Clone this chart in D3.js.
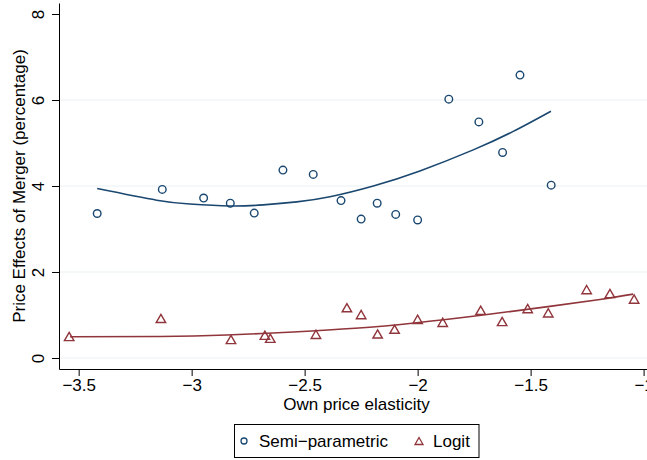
<!DOCTYPE html>
<html>
<head>
<meta charset="utf-8">
<script src="https://cdn.jsdelivr.net/npm/d3@7"></script>
<style>
  body { margin: 0; background: #fff; }
  svg text { font-family: "Liberation Sans", Arial, sans-serif; }
</style>
</head>
<body>
<div id="chart"></div>
<script>
// data
var semiX = [-3.418, -3.130, -2.947, -2.829, -2.723, -2.596, -2.462, -2.339, -2.250, -2.179, -2.097, -2.000, -1.862, -1.729, -1.624, -1.547, -1.409];
var semiY = [3.36, 3.92, 3.72, 3.60, 3.37, 4.37, 4.27, 3.66, 3.23, 3.60, 3.34, 3.21, 6.02, 5.49, 4.78, 6.58, 4.02];
var logitX = [-3.542, -3.136, -2.826, -2.676, -2.652, -2.450, -2.313, -2.250, -2.177, -2.102, -2.000, -1.889, -1.721, -1.626, -1.513, -1.422, -1.252, -1.149, -1.042];
var logitY = [0.50, 0.92, 0.43, 0.53, 0.46, 0.55, 1.17, 1.01, 0.56, 0.67, 0.90, 0.83, 1.11, 0.85, 1.15, 1.05, 1.59, 1.50, 1.37];

// fitted curves
var semiFitX = [-3.418, -3.155, -3.008, -2.831, -2.683, -2.535, -2.388, -2.196, -1.990, -1.754, -1.577, -1.410];
var semiFitY = [3.94, 3.67, 3.58, 3.535, 3.56, 3.63, 3.75, 4.00, 4.35, 4.84, 5.27, 5.74];
var logitFitX = [-3.538, -3.140, -2.845, -2.550, -2.277, -2.004, -1.710, -1.415, -1.193, -1.046];
var logitFitY = [0.495, 0.50, 0.535, 0.605, 0.69, 0.82, 1.00, 1.20, 1.36, 1.485];

var xTicks = [-3.5, -3, -2.5, -2, -1.5, -1];
var yTicks = [0, 2, 4, 6, 8];
var yGrid = [0, 2, 4, 6];
var seriesNames = ["Semi\u2212parametric", "Logit"];

var navy = "#1a476f";
var maroon = "#90353b";
var width = 647, height = 460;

var svg = d3.select("#chart").append("svg")
    .attr("width", width)
    .attr("height", height);

var x = d3.scaleLinear().domain([-3.587, -0.954]).range([59, 654]);
var y = d3.scaleLinear().domain([-0.256, 8.256]).range([369, 3]);

// gridlines
svg.selectAll(".grid")
    .data(yGrid)
    .enter()
    .append("line")
    .attr("x1", 59).attr("x2", 654)
    .attr("y1", function(d) { return y(d); })
    .attr("y2", function(d) { return y(d); })
    .attr("stroke", "#eaf2f3")
    .attr("stroke-width", 1.2);

// axes
var xAxis = svg.append("g")
    .attr("transform", "translate(0,369)")
    .call(d3.axisBottom(x).tickValues(xTicks).tickSizeInner(7).tickSizeOuter(0).tickPadding(3).tickFormat(d3.format("")));
xAxis.selectAll("text").attr("font-size", "17px").attr("fill", "#000");

var yAxis = svg.append("g")
    .attr("transform", "translate(59,0)")
    .call(d3.axisLeft(y).tickValues(yTicks).tickSizeInner(7).tickSizeOuter(0).tickFormat(d3.format("")));
yAxis.selectAll(".tick text")
    .attr("font-size", "17px")
    .attr("fill", "#000")
    .attr("x", null).attr("dy", null)
    .attr("text-anchor", "middle")
    .attr("transform", "translate(-15,0) rotate(-90)");

svg.selectAll(".domain").attr("stroke", "#000");
svg.selectAll(".tick line").attr("stroke", "#000");

// axis titles
svg.append("text")
    .attr("x", 356.5).attr("y", 410)
    .attr("text-anchor", "middle")
    .attr("font-size", "17px")
    .text("Own price elasticity");

svg.append("text")
    .attr("transform", "translate(25,186) rotate(-90)")
    .attr("text-anchor", "middle")
    .attr("font-size", "17px")
    .text("Price Effects of Merger (percentage)");

// fit lines
var line = d3.line()
    .x(function(d) { return x(d[0]); })
    .y(function(d) { return y(d[1]); })
    .curve(d3.curveNatural);

svg.append("path")
    .attr("d", line(d3.zip(semiFitX, semiFitY)))
    .attr("fill", "none").attr("stroke", navy).attr("stroke-width", 1.6);

svg.append("path")
    .attr("d", line(d3.zip(logitFitX, logitFitY)))
    .attr("fill", "none").attr("stroke", maroon).attr("stroke-width", 1.6);

// markers
var semiData = semiX.map(function(v, i) { return {x: v, y: semiY[i]}; });
var logitData = logitX.map(function(v, i) { return {x: v, y: logitY[i]}; });

svg.selectAll(".semi")
    .data(semiData)
    .enter()
    .append("circle")
    .attr("cx", function(d) { return x(d.x); })
    .attr("cy", function(d) { return y(d.y); })
    .attr("r", 3.8)
    .attr("fill", "none")
    .attr("stroke", navy)
    .attr("stroke-width", 1.4);

function tri(cx, cy, w) {
    var h = w * 0.87;
    return "M" + cx + "," + (cy - h / 2) + "L" + (cx + w / 2) + "," + (cy + h / 2) + "L" + (cx - w / 2) + "," + (cy + h / 2) + "Z";
}

svg.selectAll(".logit")
    .data(logitData)
    .enter()
    .append("path")
    .attr("d", function(d) { return tri(x(d.x), y(d.y), 9.5); })
    .attr("fill", "none")
    .attr("stroke", maroon)
    .attr("stroke-width", 1.4)
    .attr("stroke-linejoin", "miter");

// legend
var legend = svg.append("g");
legend.append("rect")
    .attr("x", 234.5).attr("y", 424.5)
    .attr("width", 244.5).attr("height", 33)
    .attr("fill", "#fff").attr("stroke", "#000").attr("stroke-width", 1);
legend.append("circle")
    .attr("cx", 244).attr("cy", 441).attr("r", 3)
    .attr("fill", "none").attr("stroke", navy).attr("stroke-width", 1.3);
legend.append("path")
    .attr("d", tri(419, 441, 8))
    .attr("fill", "none").attr("stroke", maroon).attr("stroke-width", 1.3);
legend.append("text")
    .attr("x", 259).attr("y", 447)
    .attr("font-size", "17px")
    .text(seriesNames[0]);
legend.append("text")
    .attr("x", 433).attr("y", 447)
    .attr("font-size", "17px")
    .text(seriesNames[1]);
</script>
</body>
</html>
